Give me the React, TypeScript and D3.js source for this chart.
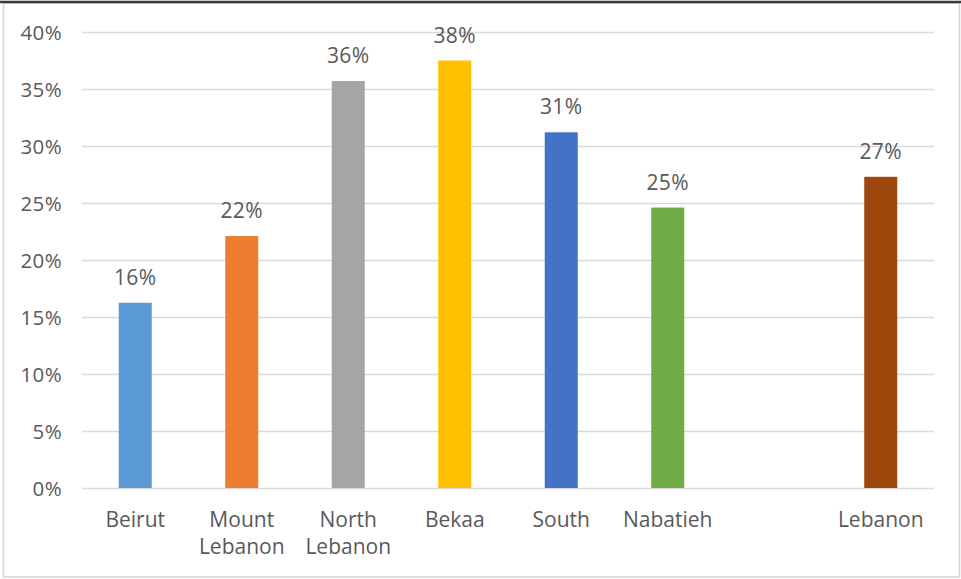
import * as d3 from 'd3'
import { useRef, useEffect } from 'react'

// regions, with an empty slot before the national figure
const categories: string[] = ['Beirut', 'Mount\nLebanon', 'North\nLebanon', 'Bekaa', 'South', 'Nabatieh', '', 'Lebanon']
const shares: (number | null)[] = [0.1625, 0.221, 0.357, 0.375, 0.312, 0.246, null, 0.273]
const valueLabels: string[] = ['16%', '22%', '36%', '38%', '31%', '25%', '', '27%']
const barColors: string[] = ['#5B9BD5', '#ED7D31', '#A5A5A5', '#FFC000', '#4472C4', '#70AD47', '#FFFFFF', '#9E480E']
const yTicks: number[] = [0, 0.05, 0.1, 0.15, 0.2, 0.25, 0.3, 0.35, 0.4]

const svgWidth = 961
const svgHeight = 579
const margin = { top: 32, right: 27, bottom: 91, left: 82 }
const textColor = '#595959'
const font = "'Open Sans', 'Noto Sans', sans-serif"

export default function App() {
  const svgRef = useRef<SVGSVGElement>(null)

  useEffect((): void => {
    const SVG = d3.select(svgRef.current)
    SVG.selectAll('*').remove()

    // frame around the picture
    SVG.append('rect')
      .attr('x', 3.5).attr('y', 3).attr('width', svgWidth - 5).attr('height', svgHeight - 5)
      .attr('fill', '#fff').attr('stroke', '#d4d4d4').attr('stroke-width', 1.5)
    SVG.append('line')
      .attr('x1', 0).attr('x2', svgWidth).attr('y1', 2).attr('y2', 2)
      .attr('stroke', '#3a3a3a').attr('stroke-width', 2.5)

    const xScale = d3.scaleBand<number>()
      .domain(d3.range(categories.length))
      .range([margin.left, svgWidth - margin.right])
      .paddingInner(0.69)
      .paddingOuter(0.345)
    const yScale = d3.scaleLinear()
      .domain([0, 0.4])
      .range([svgHeight - margin.bottom, margin.top])

    // gridlines + y tick labels
    const yAxis = d3.axisLeft(yScale)
      .tickValues(yTicks)
      .tickFormat(d3.format('.0%'))
      .tickSize(-(svgWidth - margin.left - margin.right))
      .tickPadding(20)
    const gy = SVG.append('g')
      .attr('transform', `translate(${margin.left},0)`)
      .call(yAxis)
    gy.select('.domain').remove()
    gy.selectAll('.tick line').attr('stroke', '#d9d9d9').attr('stroke-width', 1.5)
    gy.selectAll('.tick text')
      .attr('fill', textColor)
      .attr('font-family', font)
      .attr('font-size', 20.5)
      .attr('letter-spacing', 0.4)
      .attr('dy', '0.36em')

    const idx = d3.range(categories.length).filter(i => shares[i] !== null)

    SVG.append('g').selectAll('rect')
      .data(idx)
      .enter()
      .append('rect')
      .attr('x', i => xScale(i)!)
      .attr('y', i => yScale(shares[i]!))
      .attr('width', xScale.bandwidth())
      .attr('height', i => yScale(0) - yScale(shares[i]!))
      .attr('fill', i => barColors[i])

    SVG.append('g').selectAll('text')
      .data(idx)
      .enter()
      .append('text')
      .attr('x', i => xScale(i)! + xScale.bandwidth() / 2)
      .attr('y', i => yScale(shares[i]!) - 18)
      .attr('text-anchor', 'middle')
      .attr('fill', textColor)
      .attr('font-family', font)
      .attr('font-size', 21)
      .attr('letter-spacing', 0.4)
      .text(i => valueLabels[i])

    // category labels, possibly on two lines
    const catG = SVG.append('g').selectAll('text')
      .data(d3.range(categories.length))
      .enter()
      .append('text')
      .attr('x', i => xScale(i)! + xScale.bandwidth() / 2)
      .attr('y', yScale(0) + 39)
      .attr('text-anchor', 'middle')
      .attr('fill', textColor)
      .attr('font-family', font)
      .attr('font-size', 21)
    catG.each(function (i) {
      const t = d3.select(this)
      categories[i].split('\n').forEach((line, k) => {
        t.append('tspan')
          .attr('x', xScale(i)! + xScale.bandwidth() / 2)
          .attr('dy', k === 0 ? 0 : 27)
          .text(line)
      })
    })
  }, [])

  return (
    <svg ref={svgRef} width={svgWidth} height={svgHeight}
      style={{ position: 'absolute', left: 0, top: 0, background: '#fff' }} />
  )
}
